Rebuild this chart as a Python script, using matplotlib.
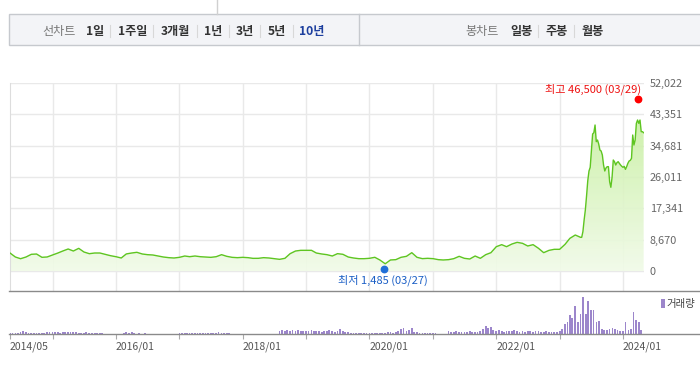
import numpy as np
import pandas as pd
import matplotlib
matplotlib.use("Agg")
import matplotlib.pyplot as plt
import matplotlib.dates as mdates
from matplotlib.colors import LinearSegmentedColormap
from matplotlib.patches import Rectangle
from matplotlib.transforms import offset_copy

plt.rcParams['font.family'] = ['Noto Sans CJK KR', 'DejaVu Sans']

# monthly closes 2014/05 .. 2023/04
monthly_close = [4980, 3870, 3400, 3870, 4620, 4700, 3790, 3880, 4430, 4980, 5530, 6090,
                 5530, 6270, 5260, 4790, 4980, 4980, 4620, 4240, 3960, 3600, 4720, 4980,
                 5170, 4710, 4520, 4430, 4150, 3870, 3690, 3600, 3780, 4150, 3960, 4150,
                 3960, 3870, 3780, 3960, 4520, 4060, 3780, 3690, 3780, 3690, 3500, 3510,
                 3690, 3600, 3410, 3230, 3510, 4800, 5530, 5720, 5720, 5720, 4980, 4710,
                 4520, 4150, 4800, 4620, 3870, 3600, 3410, 3410, 3510, 3790, 3050, 2000,
                 3050, 3140, 3790, 4060, 5070, 3790, 3420, 3510, 3420, 3140, 3050, 3140,
                 3420, 4060, 3510, 3320, 4150, 3510, 4520, 5070, 6730, 7290, 6730, 7470,
                 7930, 7660, 6920, 7290, 6280, 5070, 5720, 6000, 6000, 7380, 9040, 9960]
# weekly closes from 2023/05/01
weekly_close = [9320, 9320, 10890, 14110, 16880, 20750, 24990, 27670, 28690, 33290,
                37910, 38270, 40400, 35790, 36250, 35140, 33480, 33200, 32100, 29330,
                27670, 28500, 28870, 28870, 24720, 23160, 25920, 30710, 30250, 29330,
                29980, 30250, 29790, 29330, 28960, 28690, 28960, 28130, 28870, 29790,
                30430, 30620, 31170, 37630, 34860, 36250, 40860, 41780, 40860, 41780,
                38550, 38550, 38270]

# volume, two bars a month
vol_2014 = [1, 1, 1.5, 1.5, 2, 3, 2, 1.5, 1.5, 1.5, 1.5, 1.5, 1, 1.5, 2, 2]
vol_2015 = [2, 2, 2, 1.5, 2, 2, 2.5, 2, 2, 2, 1.5, 1.5, 1.5, 2, 1.5, 1.5, 1, 1.5, 1, 1, 0, 0.5, 0, 0]
vol_2016 = [0, 0, 0.5, 1.5, 2, 1, 2, 1.5, 0, 1, 0.5, 1, 0, 0.5, 0, 0, 0, 0, 0, 0, 0, 0, 0, 0]
vol_2017 = [1, 1, 1, 1.5, 1, 1, 1, 1.5, 1, 1, 1, 1.5, 1, 1, 1.5, 2, 1, 1.5, 1, 1, 0.5, 0, 0, 0]
vol_2018 = [0.5, 0, 0, 0.5, 0, 0, 0.5, 0, 0.5, 0, 0, 0.5, 0.5, 0, 3, 4, 3, 4.5, 3, 4, 3.5, 4, 3, 3.5]
vol_2019 = [3, 3.5, 4, 3, 3.5, 3, 2.5, 3, 3.5, 4, 3, 2.5, 3, 5, 3, 2.5, 2, 1.5, 1, 1, 1, 1, 1, 1]
vol_2020 = [1, 1, 1.5, 1, 1, 1.5, 1.5, 2, 2, 1.5, 2, 3, 5, 6, 3, 4, 6, 2, 2, 1.5, 1.5, 1, 1, 1]
vol_2021 = [1.5, 1, 0, 0, 0, 0, 3, 2, 2, 3, 2, 2.5, 2, 2, 3, 2, 2, 2.5, 3, 5, 8, 6, 7, 4]
vol_2022 = [3, 4, 3, 2.5, 3, 3.5, 3, 4, 3, 2.5, 3, 2.5, 3, 3, 2, 3.5, 3, 2.5, 2, 3, 2.5, 2, 2, 2]
vol_2023 = [3, 5, 10, 12, 19, 16, 28, 12, 20, 37, 20, 33, 24, 24, 12, 13, 5, 4, 4, 5, 6, 5, 4, 3]
vol_2024 = [3, 12, 4, 5, 22, 14, 12, 4]

y_ticks = [0, 8670, 17341, 26011, 34681, 43351, 52022]
y_labels = ['0', '8,670', '17,341', '26,011', '34,681', '43,351', '52,022']

high_date, high_value, high_text = '2024-03-29', 46500, '최고 46,500 (03/29)'
low_date, low_value, low_text = '2020-03-27', 1485, '최저 1,485 (03/27)'

tab_left = ['1일', '1주일', '3개월', '1년', '3년', '5년', '10년']
tab_right = ['일봉', '주봉', '월봉']

# ---------------------------------------------------------------
dates = list(pd.date_range('2014-05-01', periods=len(monthly_close), freq='MS')) + \
        list(pd.date_range('2023-05-01', periods=len(weekly_close), freq='7D'))
close = np.array(monthly_close + weekly_close, dtype=float)
volume = np.concatenate([vol_2014, vol_2015, vol_2016, vol_2017, vol_2018, vol_2019,
                         vol_2020, vol_2021, vol_2022, vol_2023, vol_2024])
vol_dates = pd.date_range('2014-05-01', periods=len(volume), freq='SMS')

x0, x1 = pd.Timestamp('2014-05-01'), pd.Timestamp('2024-05-01')
years = [pd.Timestamp(f'{y}-01-01') for y in range(2015, 2025)]

W, H = 700, 370
def box(l, t, r, b):
    return [l / W, 1 - b / H, (r - l) / W, (b - t) / H]

fig = plt.figure(figsize=(7, 3.7), dpi=100)

# price panel
ax = fig.add_axes(box(10, 83, 644, 291))
ylo, yhi = -5534, 52022
grid_c = '#e9e9e9'
for d in years:
    ax.axvline(d, color=grid_c, lw=1, zorder=0)
for t in y_ticks:
    ax.axhline(t, color=grid_c, lw=1, zorder=0)

cmap = LinearSegmentedColormap.from_list('g', ['#f6fcf1', '#bfed92'])
grad = np.linspace(0, 1, 256).reshape(-1, 1)
im = ax.imshow(grad, aspect='auto', cmap=cmap, origin='lower', alpha=0.9,
               extent=[mdates.date2num(x0), mdates.date2num(x1), ylo, yhi], zorder=1)
fill = ax.fill_between(dates, close, 0, facecolor='none', edgecolor='none')
im.set_clip_path(fill.get_paths()[0], ax.transData)
ax.plot(dates, close, color='#5ec521', lw=1.0, zorder=3)

hd, ld = pd.Timestamp(high_date), pd.Timestamp(low_date)
ax.plot([hd], [high_value], 'o', ms=4.6, color='#ff0000', zorder=4,
        transform=offset_copy(ax.transData, fig=fig, y=4, units='dots'))
ax.plot([ld], [low_value], 'o', ms=4.6, color='#1f6fd8', zorder=4,
        transform=offset_copy(ax.transData, fig=fig, y=-3, units='dots'))
ax.annotate(high_text, (hd, high_value), xytext=(3, 14), textcoords='offset pixels',
            ha='right', va='center', fontsize=8, color='#ee1111')
ax.annotate(low_text, (ld, low_value), xytext=(-1, -15), textcoords='offset pixels',
            ha='center', va='center', fontsize=8, color='#1b5fc6')

ax.set_xlim(x0, x1)
ax.set_ylim(ylo, yhi)
ax.set_xticks([])
ax.yaxis.tick_right()
ax.set_yticks(y_ticks)
ax.set_yticklabels(y_labels)
ax.tick_params(axis='y', length=0, pad=4, labelsize=7.8, labelcolor='#666666')
for s in ax.spines.values():
    s.set_visible(False)
ax.spines['left'].set_visible(True)
ax.spines['left'].set_color('#dddddd')

# volume panel
av = fig.add_axes(box(10, 294, 644, 334))
av.bar(vol_dates, volume, width=10, color='#9c86cb', align='center')
av.set_xlim(x0, x1)
av.set_ylim(0, 40)
av.set_yticks([])
ticks = [x0] + years
av.set_xticks(ticks)
av.set_xticklabels([d.strftime('%Y/%m') if (d.year % 2 == 0 or d == x0) else '' for d in ticks])
av.tick_params(axis='x', length=3.6, width=0.8, color='#aaaaaa', pad=1.5,
               labelsize=7.5, labelcolor='#555555')
for lab in av.get_xticklabels():
    lab.set_ha('left')
for s in av.spines.values():
    s.set_visible(False)
av.patch.set_alpha(0)

# page chrome
ov = fig.add_axes([0, 0, 1, 1], zorder=10)
ov.set_xlim(0, W)
ov.set_ylim(H, 0)
ov.axis('off')
ov.patch.set_alpha(0)
ov.plot([9, W], [291, 291], color='#8a8a8a', lw=1)
ov.plot([9, W], [334, 334], color='#8a8a8a', lw=1)
ov.add_patch(Rectangle((9, 14), 700, 31, facecolor='#f3f4f7', edgecolor='#c6c9ce', lw=1))
ov.plot([359, 359], [14, 45], color='#c6c9ce', lw=1)
ov.plot([217, 217], [0, 14], color='#d0d0d0', lw=1)

ty = 31
ov.text(42, ty, '선차트', fontsize=8.7, color='#777777', va='center')
left_x = [86, 118, 161, 204, 236, 268, 299]
for lab, x in zip(tab_left, left_x):
    c = '#1d3f9e' if lab == '10년' else '#333333'
    ov.text(x, ty, lab, fontsize=8.7, fontweight='bold', color=c, va='center')
for x in [110, 153, 197, 229, 260, 293]:
    ov.plot([x, x], [25, 37], color='#d8d8d8', lw=0.8)
ov.text(465, ty, '봉차트', fontsize=8.7, color='#777777', va='center')
for lab, x in zip(tab_right, [510, 545, 582]):
    ov.text(x, ty, lab, fontsize=8.7, fontweight='bold', color='#333333', va='center')
for x in [538, 574]:
    ov.plot([x, x], [25, 37], color='#d8d8d8', lw=0.8)

ov.add_patch(Rectangle((661, 299), 3.5, 9, facecolor='#9c86cb', edgecolor='none'))
ov.text(666, 304, '거래량', fontsize=7.5, color='#444444', va='center')

fig.savefig('out.png', dpi=100)
